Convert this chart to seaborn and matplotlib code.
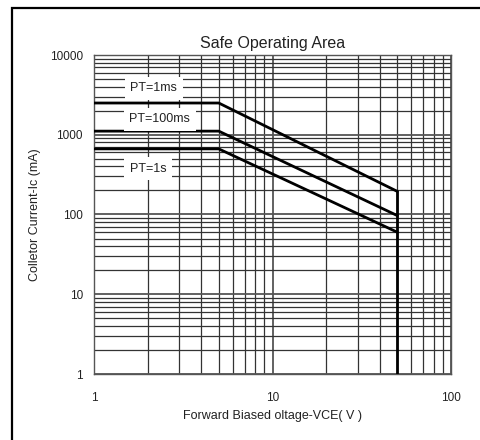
import numpy as np
import pandas as pd
import seaborn as sns
import matplotlib.pyplot as plt
from matplotlib.ticker import FixedLocator, LogLocator, NullFormatter, FuncFormatter
from matplotlib.patches import Rectangle

# ===== data =====
vce = [1, 5, 50]
ic_1ms = [2500, 2500, 195]
ic_100ms = [1110, 1110, 97]
ic_1s = [665, 665, 60]
limit_vce = [50, 50]
limit_ic = [195, 1]
series_names = ['PT=1ms', 'PT=100ms', 'PT=1s']
label_pos = [(2.16, 3820), (2.34, 1575), (2.01, 372)]

frames = []
for name, vals in zip(series_names, [ic_1ms, ic_100ms, ic_1s]):
    frames.append(pd.DataFrame({'vce': vce, 'ic': vals, 'pt': name}))
data = pd.concat(frames, ignore_index=True)
limit = pd.DataFrame({'vce': limit_vce, 'ic': limit_ic})

sns.set_style("white")
plt.rcParams['font.family'] = ['Liberation Sans', 'DejaVu Sans']

fig = plt.figure(figsize=(4.81, 4.40), dpi=100)
ax = fig.add_axes([94/481, 1 - 374/440, 357/481, 319/440])

sns.lineplot(data=data, x='vce', y='ic', units='pt', estimator=None, sort=False,
             color='black', linewidth=2.0, ax=ax, zorder=3)
sns.lineplot(data=limit, x='vce', y='ic', estimator=None, sort=False,
             color='black', linewidth=2.0, ax=ax, zorder=3)

ax.set_xscale('log')
ax.set_yscale('log')
ax.set_xlim(1, 100)
ax.set_ylim(1, 10000)

ax.xaxis.set_major_locator(FixedLocator([1, 10, 100]))
ax.yaxis.set_major_locator(FixedLocator([1, 10, 100, 1000, 10000]))
ax.xaxis.set_minor_locator(LogLocator(base=10, subs=np.arange(2, 10)))
ax.yaxis.set_minor_locator(LogLocator(base=10, subs=np.arange(2, 10)))
ax.xaxis.set_minor_formatter(NullFormatter())
ax.yaxis.set_minor_formatter(NullFormatter())
plain = FuncFormatter(lambda v, p: f'{int(round(v))}')
ax.xaxis.set_major_formatter(plain)
ax.yaxis.set_major_formatter(plain)

ax.grid(which='major', color='#555555', linewidth=1.3)
ax.grid(which='minor', color='#333333', linewidth=0.9)
ax.tick_params(which='both', length=0)
ax.tick_params(axis='y', labelsize=8.5, pad=8, labelcolor='#222222')
ax.tick_params(axis='x', labelsize=8.5, pad=13, labelcolor='#222222')
for s in ax.spines.values():
    s.set_color('#555555')
    s.set_linewidth(1.0)

for name, (lx, ly) in zip(series_names, label_pos):
    ax.text(lx, ly, name, fontsize=9, ha='center', va='center', color='#222222',
            bbox=dict(facecolor='white', edgecolor='none', pad=4), zorder=4)

ax.set_title('Safe Operating Area', fontsize=11.5, pad=5, color='#222222')
ax.set_xlabel('Forward Biased oltage-VCE( V )', fontsize=9, labelpad=4, color='#222222')
ax.set_ylabel('Colletor Current-Ic (mA)', fontsize=9, labelpad=6, color='#222222')

fig.add_artist(Rectangle((12/481, -0.2), 1.2, 1.2 - 8/440, transform=fig.transFigure,
                         fill=False, edgecolor='black', linewidth=1.6, clip_on=False))

fig.savefig('out.png', dpi=100)
